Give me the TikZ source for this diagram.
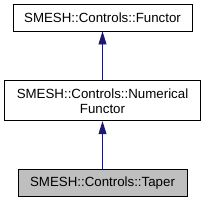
\documentclass[tikz,border=0pt]{standalone}
\usepackage{fontspec}
\setmainfont{Liberation Sans}
\usetikzlibrary{positioning,arrows.meta}
\definecolor{edgeblue}{HTML}{191970}
\begin{document}
\begin{tikzpicture}[x=1pt, y=1pt, node distance=49pt, >={Triangle[width=8pt,length=13pt]},
    class/.style={draw, rectangle, line width=0.8pt, inner sep=0pt, font=\fontsize{13.3}{15}\selectfont, minimum height=27pt},
    inherit/.style={->, draw=edgeblue, line width=0.8pt}]
    \useasboundingbox (0,0) rectangle (205,-201);
    \node[class, minimum width=179pt] (functor) at (102.5,-17.5) {SMESH::Controls::Functor};
    \node[class, below=of functor, minimum width=196pt, minimum height=40pt, align=center] (numfunc) {SMESH::Controls::Numerical\\Functor};
    \node[class, below=48pt of numfunc, minimum width=169pt, fill=gray!50] (taper) {SMESH::Controls::Taper};

    \draw[inherit] (numfunc) -- (functor);
    \draw[inherit] (taper) -- (numfunc);
\end{tikzpicture}
\end{document}
